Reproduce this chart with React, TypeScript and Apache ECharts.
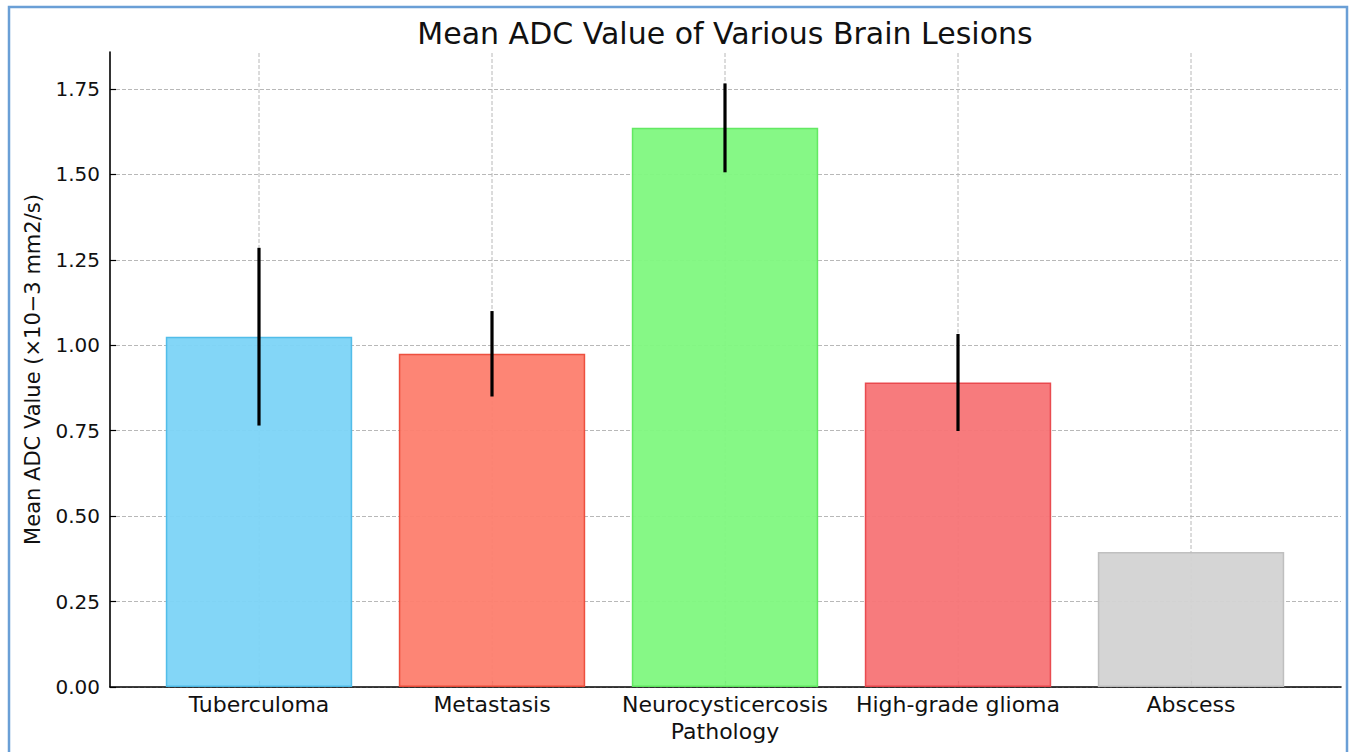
import React, { useEffect, useRef } from "react";
import * as echarts from "echarts";

const categories = ["Tuberculoma", "Metastasis", "Neurocysticercosis", "High-grade glioma", "Abscess"];
const meanValues = [1.025, 0.975, 1.636, 0.891, 0.395];
const errorValues = [0.26, 0.125, 0.13, 0.142, 0];
const barColors = ["#7cd4f7", "#fd7e6e", "#80f880", "#f77476", "#d3d3d3"];
const barEdges = ["#4cbbe8", "#ec4a38", "#5ee85e", "#e8454a", "#bdbdbd"];
const yTicks = [0, 0.25, 0.5, 0.75, 1.0, 1.25, 1.5, 1.75];

const FONT = "DejaVu Sans";
const Y_MAX = 1.858;

export default function App() {
  const ref = useRef<HTMLDivElement>(null);
  useEffect(() => {
    if (!ref.current) return;
    const chart = echarts.init(ref.current, null, { renderer: "svg" });
    const tickStep = yTicks[1] - yTicks[0];
    chart.setOption({
      animation: false,
      backgroundColor: "#ffffff",
      textStyle: { fontFamily: FONT },
      graphic: [
        {
          type: "rect",
          shape: { x: 9, y: 7, width: 1338, height: 760 },
          style: { fill: "none", stroke: "#6a9fd6", lineWidth: 2.5 },
          z: 100,
        },
        {
          type: "text",
          x: 725,
          y: 33,
          style: {
            text: "Mean ADC Value of Various Brain Lesions",
            font: `30px '${FONT}'`,
            fill: "#111",
            align: "center",
            verticalAlign: "middle",
          },
        },
      ],
      grid: [
        { left: 110, right: 13, top: 52, bottom: 65 },
        { left: 142.5, width: 1165, top: 52, bottom: 65 },
      ],
      xAxis: [
        {
          gridIndex: 0,
          type: "value",
          min: 0,
          max: 1,
          axisLine: { show: true, onZero: false, lineStyle: { color: "#000", width: 1.6 } },
          axisTick: { show: false },
          axisLabel: { show: false },
          splitLine: { show: false },
        },
        {
          gridIndex: 1,
          type: "category",
          data: categories,
          name: "Pathology",
          nameLocation: "middle",
          nameGap: 33,
          nameTextStyle: { fontSize: 22, color: "#111", fontFamily: FONT },
          axisLine: { show: false },
          axisTick: { show: true, inside: true, alignWithLabel: true, length: 6, lineStyle: { color: "#000", width: 1.2 } },
          axisLabel: { fontSize: 22, color: "#111", margin: 6, fontFamily: FONT, interval: 0 },
          splitLine: { show: false },
        },
      ],
      yAxis: [
        {
          gridIndex: 0,
          type: "value",
          min: 0,
          max: Y_MAX,
          interval: tickStep,
          name: "Mean ADC Value (\u00d710\u22123 mm2/s)",
          nameLocation: "middle",
          nameGap: 67,
          nameTextStyle: { fontSize: 21, color: "#111", fontFamily: FONT },
          axisLine: { show: true, lineStyle: { color: "#000", width: 1.6 } },
          axisTick: { show: true, inside: true, length: 6, lineStyle: { color: "#000", width: 1.2 } },
          axisLabel: {
            fontSize: 20,
            color: "#111",
            margin: 10,
            fontFamily: FONT,
            showMaxLabel: false,
            formatter: (v: number) => (v > yTicks[yTicks.length - 1] + 0.01 ? "" : v.toFixed(2)),
          },
          splitLine: {
            show: true,
            showMaxLine: false,
            lineStyle: { color: "#b8b8b8", type: [4, 2], width: 1 },
          },
        },
        {
          gridIndex: 1,
          type: "value",
          min: 0,
          max: Y_MAX,
          show: false,
          splitLine: { show: false },
        },
      ],
      series: [
        {
          type: "custom",
          name: "vgrid",
          xAxisIndex: 1,
          yAxisIndex: 1,
          z: 1,
          silent: true,
          data: categories.map((_, i) => [i]),
          renderItem: (params: any, api: any) => {
            const i = api.value(0);
            const p0 = api.coord([i, 0]);
            const p1 = api.coord([i, Y_MAX]);
            return {
              type: "line",
              shape: { x1: p0[0], y1: p0[1], x2: p1[0], y2: p1[1] },
              style: { stroke: "#b8b8b8", lineWidth: 1, lineDash: [4, 2] },
            };
          },
        },
        {
          type: "bar",
          xAxisIndex: 1,
          yAxisIndex: 1,
          z: 2,
          barWidth: "80%",
          data: meanValues.map((v, i) => ({
            value: v,
            itemStyle: { color: barColors[i], borderColor: barEdges[i], borderWidth: 1.5, opacity: 0.95 },
          })),
        },
        {
          type: "custom",
          name: "errors",
          xAxisIndex: 1,
          yAxisIndex: 1,
          z: 3,
          silent: true,
          data: meanValues.map((v, i) => [i, v - errorValues[i], v + errorValues[i]]),
          renderItem: (params: any, api: any) => {
            const i = api.value(0);
            const lo = api.value(1);
            const hi = api.value(2);
            if (hi - lo <= 0) return null;
            const p0 = api.coord([i, lo]);
            const p1 = api.coord([i, hi]);
            return {
              type: "line",
              shape: { x1: p0[0], y1: p0[1], x2: p1[0], y2: p1[1] },
              style: { stroke: "#000", lineWidth: 3.2 },
            };
          },
        },
      ],
    });
    return () => chart.dispose();
  }, []);
  return (
    <div
      ref={ref}
      style={{ position: "fixed", left: 0, top: 0, width: 1354, height: 752 }}
    />
  );
}
